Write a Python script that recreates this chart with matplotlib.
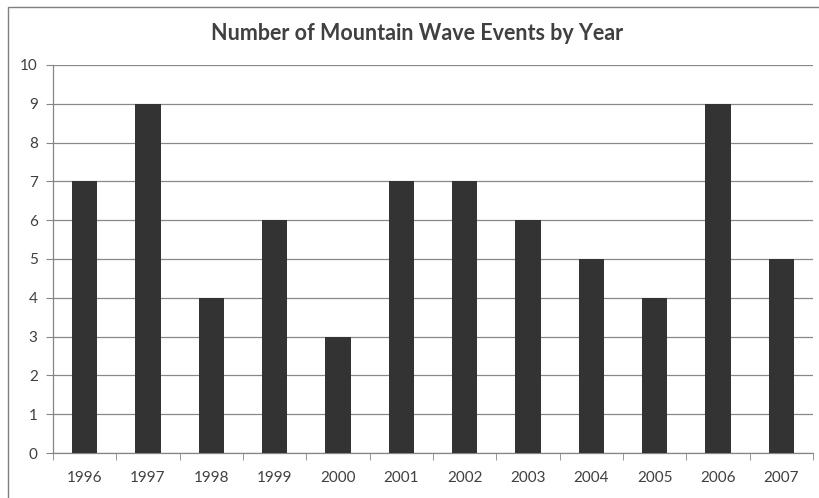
import matplotlib
matplotlib.use("Agg")
import matplotlib.pyplot as plt
from matplotlib.patches import Rectangle

years = ["1996", "1997", "1998", "1999", "2000", "2001", "2002", "2003", "2004", "2005", "2006", "2007"]
events = [7, 9, 4, 6, 3, 7, 7, 6, 5, 4, 9, 5]
yticks = list(range(0, 11))

plt.rcParams['font.family'] = ['Lato', 'DejaVu Sans']

W, H = 819, 498
fig = plt.figure(figsize=(W / 100, H / 100), dpi=100)
fig.patch.set_facecolor('white')

# outer frame
fig.patches.append(Rectangle((8 / W, -0.05), 1.2, (H - 7) / H + 0.05, transform=fig.transFigure,
                             fill=False, edgecolor='#7f7f7f', linewidth=1.0))

left, right, top, bottom = 53, 813, 65, 453
ax = fig.add_axes([left / W, 1 - bottom / H, (right - left) / W, (bottom - top) / H])

x = list(range(len(years)))
ax.bar(x, events, width=0.4, color='#333333', zorder=3)
ax.set_xlim(-0.5, len(years) - 0.5)
ax.set_ylim(0, 10)
ax.set_yticks(yticks)
ax.set_xticks(x)
ax.set_xticklabels(years)
ax.set_xticks([i - 0.5 for i in range(len(years) + 1)], minor=True)
ax.tick_params(axis='x', which='major', length=0, pad=13, labelsize=11, colors='#404040')
ax.tick_params(axis='x', which='minor', length=5, color='#868686', direction='out')
ax.tick_params(axis='y', length=5, color='#868686', labelsize=11, colors='#404040', pad=6)
ax.tick_params(axis='y', which='major', color='#868686')
ax.grid(axis='y', color='#888888', linewidth=0.9, zorder=0)
for s in ['top', 'right']:
    ax.spines[s].set_visible(False)
for s in ['left', 'bottom']:
    ax.spines[s].set_color('#868686')
    ax.spines[s].set_linewidth(0.9)

fig.text(417 / W, 1 - 33 / H, "Number of Mountain Wave Events by Year",
         ha='center', va='center', fontsize=15.5, fontweight='bold', color='#404040')

fig.savefig("out.png", dpi=100)
